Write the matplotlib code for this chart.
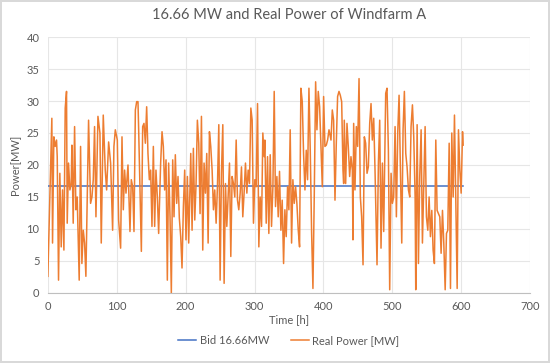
import matplotlib.pyplot as plt

plt.rcParams['font.family'] = ['Lato', 'DejaVu Sans']

# hours / real power
hours = [0, 5.8, 6.8, 8.7, 10.7, 12.6, 13.6, 15.5, 17.4, 19.4, 21.3, 23.3, 25.2, 27.1, 28.1, 30.0,
         32.0, 33.9, 34.9, 36.8, 38.8, 40.7, 42.6, 45.5, 47.5, 49.4, 51.4, 53.3, 55.2, 59.1, 62.0,
         64.0, 65.9, 67.8, 69.8, 72.7, 75.6, 77.5, 80.4, 83.3, 85.3, 88.2, 91.1, 94.0, 95.9, 97.9,
         100.8, 102.7,
         105.6, 107.6, 109.5, 111.4, 113.4, 116.3, 119.2, 121.1, 123.1, 125.0, 127.0, 128.9, 130.8,
         131.8, 133.7, 135.7, 137.6, 139.5, 141.5, 143.4, 145.3, 147.3, 149.2, 151.1, 153.1, 155.0,
         156.9, 158.9, 160.8, 163.7, 165.7, 167.6, 169.5, 171.5, 173.4, 175.3, 177.3, 179.2, 181.2,
         183.1, 185.0, 187.0, 188.9, 190.8, 192.8, 194.7, 196.7, 198.6, 200.5, 202.5, 204.4,
         207.4, 209.3, 211.2, 213.2, 215.1, 217.0, 219.0, 220.9, 222.9, 224.8, 226.7, 228.7, 230.6,
         232.6, 234.5, 236.4, 238.4, 240.3, 242.2, 244.2, 246.1, 248.1, 250.0, 251.9, 253.9, 255.8,
         257.8, 259.7, 261.6, 263.6, 265.5, 267.4, 269.4, 271.3, 273.3, 275.2, 277.1, 279.1, 281.0,
         282.9, 284.9, 286.8, 288.8, 290.7, 292.6, 294.6, 296.5, 298.4, 300.4, 302.3, 304.3, 306.2,
         308.1, 310.1, 312.0, 313.9, 314.9, 316.9, 318.8, 320.7, 322.7, 324.6, 326.6, 328.5, 330.4,
         332.4, 334.3, 336.2, 338.2, 340.1, 342.1, 344.0, 345.9, 347.9, 349.8, 351.7, 353.7, 355.6,
         357.6, 359.5, 361.4, 363.4, 365.3, 367.2, 369.2, 371.1, 373.1, 375.0, 376.9, 378.9, 380.8,
         382.8, 384.7, 386.6, 388.6, 390.5, 392.4, 394.4, 396.3, 398.3, 400.2, 402.1, 404.1, 406.0,
         408.0,
         410.9, 412.8, 414.7, 416.7, 418.6, 420.5, 422.5, 424.4, 426.4, 428.3, 429.3, 430.2, 432.2,
         434.1, 436.0, 438.0, 439.9, 441.9, 442.8, 443.8, 445.7, 447.7, 449.6, 451.6, 453.5, 455.4,
         457.4, 459.3, 461.2, 463.2, 465.1, 467.1, 469.0, 470.9, 472.9, 474.8, 476.7, 477.7, 479.7,
         481.6, 483.5, 485.5, 487.4, 490.3, 492.2, 494.2, 496.1, 498.1, 500.0, 501.9, 503.9, 505.8,
         507.8, 509.7,
         513.6, 515.5, 517.4, 519.4, 521.3, 523.3, 525.2, 527.1, 529.1, 531.0, 533.0, 533.9, 535.9,
         537.8, 539.7, 541.7, 543.6, 545.5, 547.5, 549.4, 551.4, 553.3, 555.2, 557.2, 559.1, 561.0,
         563.0, 564.9, 566.9, 568.8, 570.7, 572.7, 574.6, 576.6, 578.5, 580.4, 582.4, 584.3, 586.2,
         588.2, 590.1, 592.1, 594.0, 595.9, 597.9, 599.8, 601.8, 602.7]

real_power = [2.6, 27.3, 7.8, 24.4, 22.9, 23.9, 21.3, 2.0, 18.7, 7.2, 16.1, 6.7, 28.9, 31.5, 10.9, 20.3,
              16.1, 17.1, 23.1, 10.9, 26.0, 13.0, 15.0, 2.0, 22.9, 4.6, 9.8, 7.8, 2.6, 27.0, 14.0,
              15.0, 17.7, 26.0, 11.9, 27.6, 25.0, 7.8, 27.8, 19.2, 16.1, 23.6, 20.3, 9.8, 22.9, 25.5,
              23.9, 11.4,
              7.0, 24.4, 13.0, 19.2, 15.6, 20.0, 9.6, 17.7, 16.6, 9.6, 28.6, 29.9, 29.9,
              25.5, 16.1, 6.5, 26.0, 26.5, 23.4, 29.1, 21.8, 17.7, 19.2, 10.4, 22.9, 10.4,
              19.2, 15.0, 9.3, 20.3, 25.2, 22.9, 16.1, 20.8, 2.0, 20.3, 11.9, 0.0, 20.8,
              11.9, 21.6, 14.0, 18.2, 11.7, 8.8, 3.9, 13.5, 19.2, 8.3, 18.2, 7.8,
              21.8, 9.8, 22.6, 11.4, 17.1, 27.0, 23.4, 12.4, 27.6, 6.7, 20.3, 15.6, 21.8,
              7.8, 25.2, 22.9, 19.2, 13.0, 16.1, 10.9, 16.6, 26.3, 2.0, 18.7, 26.3, 1.5,
              17.1, 10.4, 15.0, 20.3, 5.7, 18.2, 17.1, 15.0, 23.9, 14.5, 13.0, 15.6, 19.7,
              11.9, 15.8, 20.3, 15.6, 19.2, 17.1, 28.9, 27.0, 10.9, 17.7, 16.6, 29.6, 7.2,
              15.0, 10.4, 25.0, 21.3, 23.9, 10.9, 21.3, 9.3, 21.6, 10.4, 16.6, 31.5, 13.5,
              18.2, 11.9, 19.0, 9.8, 14.5, 4.6, 13.0, 8.8, 16.6, 13.0, 25.5, 7.8, 17.7,
              14.0, 16.6, 14.0, 9.8, 7.2, 32.0, 29.9, 21.8, 16.1, 22.3, 17.7, 32.0, 22.3,
              9.3, 0.7, 15.0, 33.0, 25.5, 31.5, 29.1, 22.9, 16.6, 30.7, 22.9, 23.1, 23.9,
              25.5,
              23.9, 28.6, 27.0, 14.5, 23.4, 30.7, 31.5, 30.9, 29.9, 19.2, 17.1, 27.0, 17.1,
              26.5, 22.9, 18.2, 21.3, 19.2, 8.3, 26.5, 16.1, 26.0, 22.9, 33.5, 15.0, 11.9,
              4.4, 24.4, 23.4, 18.7, 19.7, 26.5, 29.6, 23.9, 27.3, 19.2, 9.8, 4.4, 20.3,
              27.0, 7.0, 20.3, 9.6, 31.2, 32.0, 22.3, 0.5, 18.7, 14.0, 15.0, 26.0, 11.9,
              25.2, 30.9,
              7.8, 25.5, 31.5, 21.8, 19.7, 16.1, 15.0, 26.0, 29.4, 24.4, 15.0, 0.5, 26.3,
              4.6, 18.2, 25.5, 7.8, 16.6, 26.0, 11.9, 9.8, 15.0, 8.8, 12.9, 6.7, 4.6,
              23.9, 12.9, 12.4, 11.9, 6.2, 12.9, 7.8, 0.5, 9.3, 9.8, 23.4, 0.7, 25.0,
              15.0, 27.8, 14.0, 0.7, 25.5, 19.2, 15.6, 25.2, 23.1]

bid_value = 16.66
bid_hours = [0, 602.7]
bid = [bid_value, bid_value]

fig = plt.figure(figsize=(5.5, 3.63), dpi=100)
fig.patch.set_edgecolor('#D9D9D9')
fig.patch.set_linewidth(1.5)
ax = fig.add_axes([0.087, 0.193, 0.877, 0.705])

ax.plot(bid_hours, bid, color='#4472C4', lw=1.1, label='Bid 16.66MW')
ax.plot(hours, real_power, color='#ED7D31', lw=1.1, label='Real Power [MW]')

ax.set_xlim(0, 700)
ax.set_ylim(0, 40)
ax.set_xticks(range(0, 701, 100))
ax.set_yticks(range(0, 41, 5))
ax.grid(True, color='#E6E6E6', lw=0.8)
ax.set_axisbelow(True)
for s in ['top', 'right', 'left']:
    ax.spines[s].set_visible(False)
ax.spines['bottom'].set_color('#BFBFBF')
ax.tick_params(length=0, labelsize=8, colors='#595959', pad=6)

ax.set_title('16.66 MW and Real Power of Windfarm A', fontsize=10.5, color='#595959', pad=13)
ax.set_xlabel('Time [h]', fontsize=8, color='#595959', labelpad=1)
ax.set_ylabel('Power[MW]', fontsize=8, color='#595959', labelpad=4)

ax.legend(loc='center', bbox_to_anchor=(0.5, -0.185), ncol=2, frameon=False,
          fontsize=8, labelcolor='#595959', handlelength=1.6, handletextpad=0.3,
          columnspacing=2.0)

fig.savefig('out.png', dpi=100, edgecolor=fig.get_edgecolor())
